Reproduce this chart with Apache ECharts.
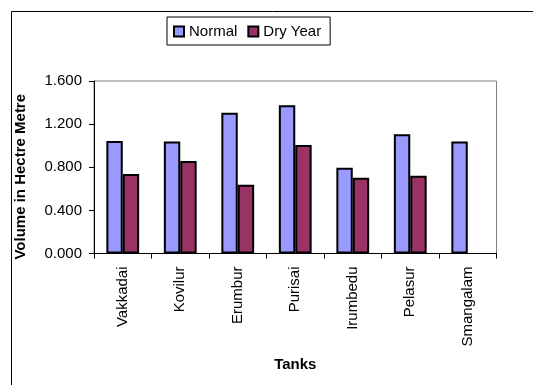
<!DOCTYPE html>
<html>
<head>
<meta charset="utf-8">
<script src="https://cdn.jsdelivr.net/npm/echarts@6/dist/echarts.min.js"></script>
<style>
  html, body { margin: 0; padding: 0; background: #fff; }
  #chart { width: 533px; height: 385px; }
</style>
</head>
<body>
<div id="chart"></div>
<script>
// Tank storage volumes (hectare metre), normal vs dry year
const tanks = ['Vakkadai', 'Kovilur', 'Erumbur', 'Purisai', 'Irumbedu', 'Pelasur', 'Smangalam'];
const normalVolume = [1.044, 1.040, 1.306, 1.375, 0.796, 1.106, 1.040];
const dryYearVolume = [0.737, 0.858, 0.638, 1.006, 0.703, 0.722, null];
const yTicks = { min: 0, max: 1.6, step: 0.4 };

const FONT = '"Liberation Sans", Arial, sans-serif';
const FS = 15;
const chart = echarts.init(document.getElementById('chart'), null, { renderer: 'canvas' });

chart.setOption({
  backgroundColor: '#fff',
  animation: false,
  textStyle: { fontFamily: FONT },
  graphic: [{
    type: 'rect',
    shape: { x: 11.5, y: 11.5, width: 600, height: 600 },
    style: { fill: 'none', stroke: '#000', lineWidth: 1 },
    silent: true,
    z: -1
  }],
  legend: {
    left: 167,
    top: 17,
    padding: [7, 9, 6, 6],
    borderColor: '#000',
    borderWidth: 1,
    itemWidth: 10,
    itemHeight: 10,
    itemGap: 10,
    icon: 'rect',
    textStyle: { fontFamily: FONT, fontSize: FS, color: '#000' },
    data: ['Normal', 'Dry Year']
  },
  grid: {
    left: 94,
    right: 36.5,
    top: 81,
    bottom: 131.5,
    show: true,
    borderColor: '#808080',
    borderWidth: 1,
    backgroundColor: 'transparent'
  },
  xAxis: {
    type: 'category',
    data: tanks,
    name: 'Tanks',
    nameLocation: 'middle',
    nameGap: 104,
    nameTextStyle: { fontFamily: FONT, fontSize: FS, fontWeight: 'bold', color: '#000' },
    axisLine: { lineStyle: { color: '#000', width: 1 } },
    axisTick: { show: true, length: 5, lineStyle: { color: '#000' } },
    axisLabel: { rotate: 90, interval: 0, margin: 13, fontFamily: FONT, fontSize: FS, color: '#000' },
    splitLine: { show: false }
  },
  yAxis: {
    type: 'value',
    min: yTicks.min,
    max: yTicks.max,
    interval: yTicks.step,
    name: 'Volume in Hectre Metre',
    nameLocation: 'middle',
    nameGap: 66,
    nameTextStyle: { fontFamily: FONT, fontSize: FS, fontWeight: 'bold', color: '#000', padding: [0, 0, 0, -19] },
    axisLine: { show: true, lineStyle: { color: '#000', width: 1 } },
    axisTick: { show: true, length: 5, lineStyle: { color: '#000' } },
    axisLabel: {
      margin: 12,
      fontFamily: FONT,
      fontSize: FS,
      color: '#000',
      formatter: v => v.toFixed(3)
    },
    splitLine: { show: false }
  },
  series: [
    {
      name: 'Normal',
      type: 'bar',
      data: normalVolume,
      barWidth: 16.4,
      barGap: '0%',
      itemStyle: { color: '#9999FF', borderColor: '#000', borderWidth: 2 }
    },
    {
      name: 'Dry Year',
      type: 'bar',
      data: dryYearVolume,
      barWidth: 16.4,
      barGap: '0%',
      itemStyle: { color: '#993366', borderColor: '#000', borderWidth: 2 }
    }
  ]
});
</script>
</body>
</html>
